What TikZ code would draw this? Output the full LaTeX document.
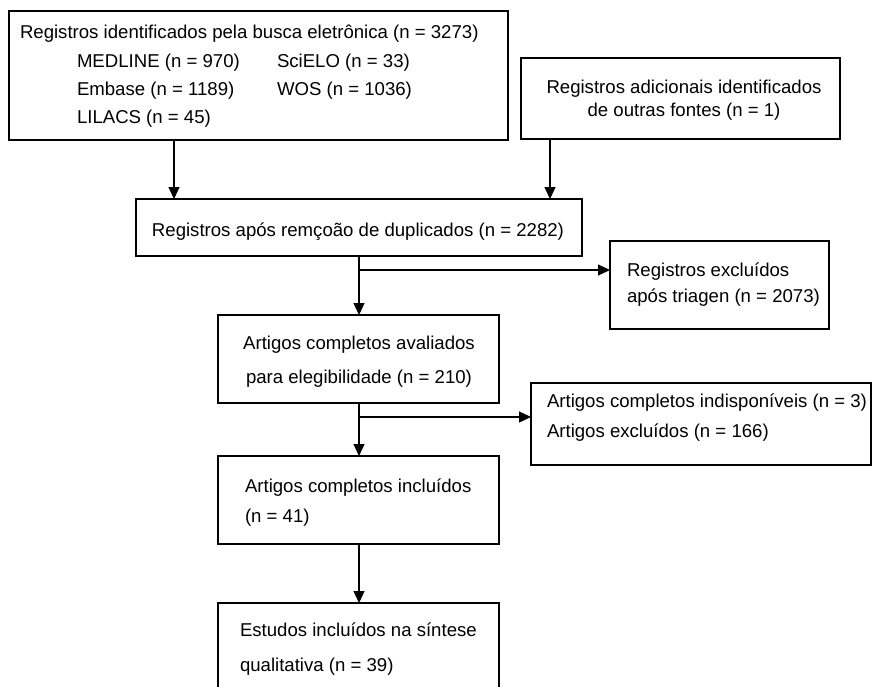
\documentclass[tikz,border=0pt]{standalone}
\usepackage{fontspec}
\setmainfont{Liberation Sans}
\usetikzlibrary{arrows.meta}
\begin{document}
\begin{tikzpicture}[x=1pt,y=-1pt,
  box/.style={draw=black, line width=1.2pt, inner sep=0pt, outer sep=0pt},
  txt/.style={inner sep=0pt, outer sep=0pt, font=\fontsize{18.6}{22}\selectfont, anchor=base west},
  ctxt/.style={txt, anchor=base},
  arr/.style={line width=1.2pt, -{Triangle[width=11pt,length=12pt]}},
  ln/.style={line width=1.2pt}]
\useasboundingbox (0,0) rectangle (872,686);
\clip (0,0) rectangle (872,686);
\fill[white] (0,0) rectangle (872,686);
% boxes
\node[box, minimum width=499pt, minimum height=129pt] (tl) at (258.5,75.5) {};
\node[box, minimum width=319pt, minimum height=81pt] (tr) at (680.5,98.5) {};
\node[box, minimum width=446pt, minimum height=57pt] (b3) at (359,227.5) {};
\node[box, minimum width=219pt, minimum height=88pt] (b4) at (719.5,285) {};
\node[box, minimum width=281pt, minimum height=88pt] (b5) at (358.5,359) {};
\node[box, minimum width=340pt, minimum height=82pt] (b6) at (701,424) {};
\node[box, minimum width=281pt, minimum height=88pt] (b7) at (358.5,500) {};
\node[box, minimum width=281pt, minimum height=117pt] (b8) at (358.5,661.5) {};
% texts
\node[txt] (tl1) at (20,38) {Registros identificados pela busca eletrônica (n = 3273)};
\node[txt] (tl2) at (77,67) {MEDLINE (n = 970)};
\node[txt] (tl3) at (277,67) {SciELO (n = 33)};
\node[txt] (tl4) at (77,95) {Embase (n = 1189)};
\node[txt] (tl5) at (277,95) {WOS (n = 1036)};
\node[txt] (tl6) at (77,123) {LILACS (n = 45)};
\node[ctxt] (tr1) at (684,93) {Registros adicionais identificados};
\node[ctxt] (tr2) at (684,116) {de outras fontes (n = 1)};
\node[ctxt] (b3t) at (358,236) {Registros após remçoão de duplicados (n = 2282)};
\node[txt] (b4a) at (627,276) {Registros excluídos};
\node[txt] (b4b) at (627,302) {após triagen (n = 2073)};
\node[ctxt] (b5a) at (359,349) {Artigos completos avaliados};
\node[ctxt] (b5b) at (359,383) {para elegibilidade (n = 210)};
\node[txt] (b6a) at (547,407) {Artigos completos indisponíveis (n = 3)};
\node[txt] (b6b) at (547,437) {Artigos excluídos (n = 166)};
\node[txt] (b7a) at (245,492) {Artigos completos incluídos};
\node[txt] (b7b) at (245,522) {(n = 41)};
\node[txt] (b8a) at (240,636) {Estudos incluídos na síntese};
\node[txt] (b8b) at (240,671) {qualitativa (n = 39)};
% connectors
\coordinate (xa) at (174,0);
\coordinate (xb) at (550,0);
\coordinate (xc) at (359,0);
\coordinate (j1) at (359,270);
\coordinate (j2) at (359,417);
\draw[arr] (tl.south -| xa) -- (b3.north -| xa);
\draw[arr] (tr.south -| xb) -- (b3.north -| xb);
\draw[arr] (b3.south -| xc) -- (b5.north -| xc);
\draw[arr] (j1) -- (b4.west |- j1);
\draw[arr] (b5.south -| xc) -- (b7.north -| xc);
\draw[arr] (j2) -- (b6.west |- j2);
\draw[arr] (b7.south -| xc) -- (b8.north -| xc);
\end{tikzpicture}
\end{document}
